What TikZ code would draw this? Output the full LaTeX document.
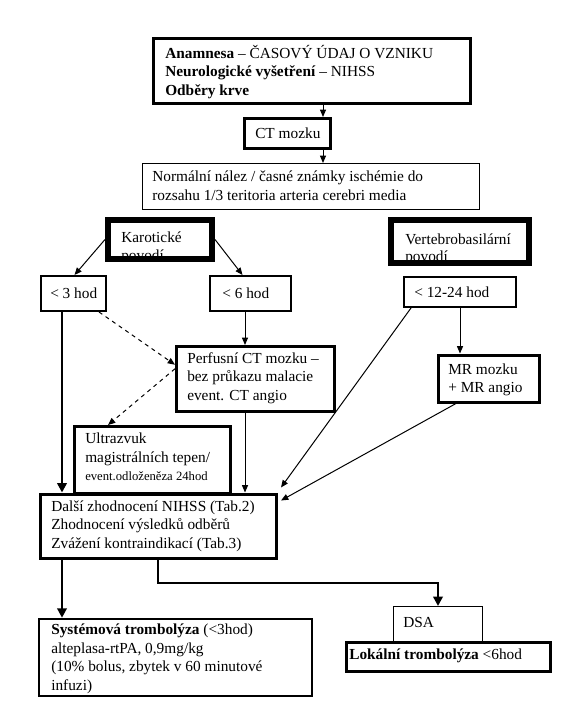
\documentclass[tikz,border=0pt]{standalone}
\usepackage{fontspec}
\setmainfont{Liberation Serif}
\usetikzlibrary{arrows.meta,fit,calc}
\begin{document}
\begin{tikzpicture}[x=0.75pt,y=-0.75pt,
  box/.style={draw, inner sep=0pt, line width=#1},
  box/.default=0.75pt,
  txt/.style={anchor=west, align=left, inner sep=0pt, font=\fontsize{11.5}{13.9}\selectfont},
  txtclip/.style={anchor=west, align=left, inner sep=0pt, font=\fontsize{11.5}{13.2}\selectfont},
  arrthin/.style={line width=0.75pt, -{Triangle[length=5.5pt,width=4.5pt]}},
  arrthick/.style={line width=1.9pt, -{Triangle[length=7pt,width=7pt]}},
  arrdsh/.style={line width=0.75pt, dashed, -{Triangle[length=5.5pt,width=4.5pt]}}]
\useasboundingbox (0,0) rectangle (584,713);
\fill[white] (0,0) rectangle (584,713);
% helper coordinates
\coordinate (xa) at (323,0);
\coordinate (x62) at (62,0);
\coordinate (x245) at (245,0);
\coordinate (x460) at (460,0);
\coordinate (x158) at (158,0);
\coordinate (ymid) at (0,583);
% texts
\node[txt] (tanam) at (165,72) {\textbf{Anamnesa} – ČASOVÝ ÚDAJ O VZNIKU\\\textbf{Neurologické vyšetření} – NIHSS\\\textbf{Odběry krve}};
\node[txt] (tct) at (255,133) {CT mozku};
\node[txt] (tnorm) at (152,186) {Normální nález / časné známky ischémie do\\rozsahu 1/3 teritoria arteria cerebri media};
\begin{scope}
  \clip (111,223) rectangle (209,256);
  \node[txtclip] (tkar) at (121,247.5) {Karotické\\povodí};
\end{scope}
\begin{scope}
  \clip (394,223) rectangle (526,260);
  \node[txtclip] (tvert) at (405,249.5) {Vertebrobasilární\\povodí};
\end{scope}
\node[txt] (tlt3) at (50,293) {< 3 hod};
\node[txt] (tlt6) at (222,293) {< 6 hod};
\node[txt] (tlt12) at (414,292) {< 12-24 hod};
\node[txt] (tperf) at (187,378) {Perfusní CT mozku –\\bez průkazu malacie\\event. CT angio};
\node[txt] (tmr) at (448,380) {MR mozku\\+ MR angio};
\node[txt] (tultra) at (85,457) {Ultrazvuk\\magistrálních tepen/\\{\fontsize{9.5}{12}\selectfont event.odloženěza 24hod}};
\node[txt] (tdalsi) at (51,526) {Další zhodnocení NIHSS (Tab.2)\\Zhodnocení výsledků odběrů\\Zvážení kontraindikací (Tab.3)};
\node[txt] (tsys) at (51,659) {\textbf{Systémová trombolýza} (<3hod)\\alteplasa-rtPA, 0,9mg/kg\\(10\% bolus, zbytek v 60 minutové\\infuzi)};
\node[txt] (tdsa) at (403,622) {DSA};
\node[txt] (tlok) at (349,656) {\textbf{Lokální trombolýza} <6hod};
% boxes
\node[box=2.25pt, fit={(153.5,38.5)(470.5,103.5)}] (anam) {};
\node[box=2.25pt, fit={(244.5,118.5)(330.5,148.5)}] (ct) {};
\node[box, fit={(142.5,163.5)(479.5,209.5)}] (norm) {};
\node[box=4.5pt, fit={(108,220)(212,259)}] (kar) {};
\node[box=4.5pt, fit={(391,220)(529,263)}] (vert) {};
\node[box=1.5pt, fit={(41,276)(106,311)}] (lt3) {};
\node[box=1.5pt, fit={(210,276)(291,311)}] (lt6) {};
\node[box=1.5pt, fit={(404,277)(516,307)}] (lt12) {};
\node[box=2.25pt, fit={(176.5,346.5)(334,411)}] (perf) {};
\node[box=2.25pt, fit={(438.5,355)(539.5,402)}] (mr) {};
\node[box=2.25pt, fit={(74.5,426.5)(230.5,493)}] (ultra) {};
\node[box=2.25pt, fit={(40.5,494)(276.5,558.5)}] (dalsi) {};
\node[box=1.9pt, fit={(39,619)(312,696)}] (sys) {};
\node[box, fit={(393.5,606.5)(482.5,641)}] (dsa) {};
\node[box=2.25pt, fit={(346.5,642)(550.5,671.5)}] (lok) {};
% connectors
\draw[arrthin] (anam.south -| xa) -- (ct.north -| xa);
\draw[arrthin] (ct.south -| xa) -- (norm.north -| xa);
\draw[arrthin] (kar.west) -- ($(lt3.north)+(1,0)$);
\draw[arrthin] (kar.east) -- ($(lt6.north)+(-8,0)$);
\draw[arrthick] (lt3.south -| x62) -- (dalsi.north -| x62);
\draw[arrdsh] ($(lt3.south east)+(-8,0)$) -- ($(perf.west)+(0,-14)$);
\draw[arrthin] (lt6.south -| x245) -- (perf.north -| x245);
\draw[arrdsh] ($(perf.west)+(0,-10)$) -- ($(ultra.north west)+(35,0)$);
\draw[arrthin] (perf.south -| x245) -- (dalsi.north -| x245);
\draw[arrthin] (lt12.south -| x460) -- (mr.north -| x460);
\draw[arrthin] ($(lt12.south west)+(8,0)$) -- ($(dalsi.north east)+(3,-5)$);
\draw[arrthin] ($(mr.south west)+(19,0)$) -- ($(dalsi.north east)+(3,8)$);
\draw[arrthick] (dalsi.south -| x62) -- (sys.north -| x62);
\draw[arrthick] (dalsi.south -| x158) -- (x158 |- ymid) -- (dsa.north |- ymid) -- (dsa.north);
\end{tikzpicture}
\end{document}
